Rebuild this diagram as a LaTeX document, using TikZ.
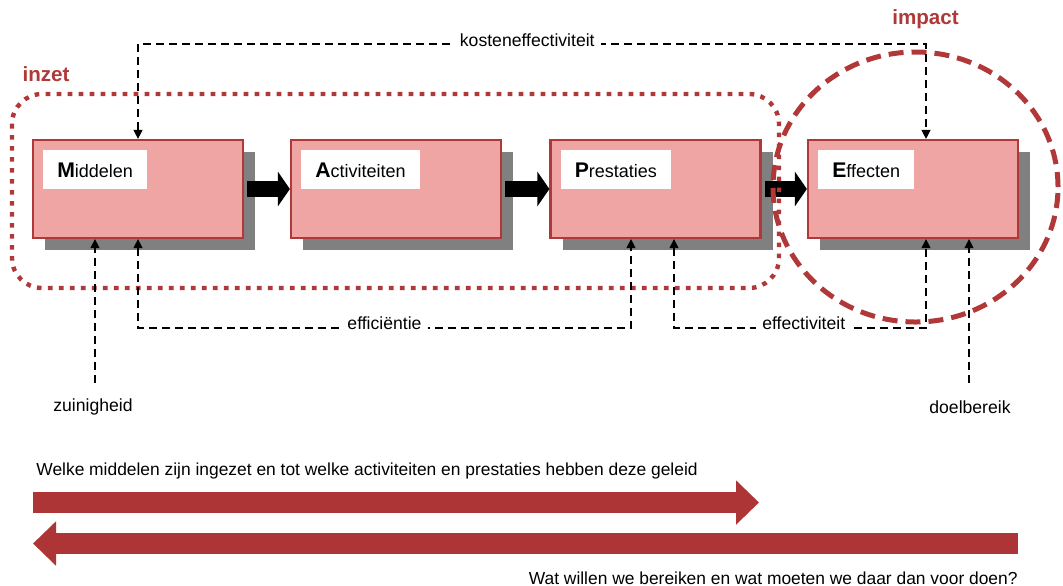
\documentclass[tikz,border=0pt]{standalone}
\usepackage{fontspec}
\setmainfont{Liberation Sans}
\usetikzlibrary{arrows.meta,shadows,calc}
\definecolor{boxfill}{RGB}{240,165,165}
\definecolor{boxline}{RGB}{176,56,56}
\definecolor{darkred}{RGB}{173,53,53}
\definecolor{shadowgray}{RGB}{128,128,128}
\newcommand\stagetext[2]{{\fontsize{10.6pt}{11pt}\selectfont\bfseries #1}{\fontsize{9pt}{10pt}\selectfont #2}}
\tikzset{
  stage/.style={draw=boxline, line width=1.1pt, fill=boxfill, minimum width=105pt, minimum height=49pt, inner sep=0pt,
    drop shadow={shadow xshift=6pt, shadow yshift=-6pt, opacity=1, fill=shadowgray}},
  stagelabel/.style={fill=white, anchor=north west, minimum height=19.5pt, inner xsep=7pt, inner ysep=0pt},
  conn/.style={draw=black, line width=0.6pt, dash pattern=on 4pt off 2.5pt},
  tip/.tip={Triangle[length=4.5pt,width=4.5pt]},
  lbl/.style={fill=white, inner xsep=3pt, inner ysep=1pt, font=\fontsize{8.8pt}{10pt}\selectfont},
  plain/.style={inner sep=0pt, font=\fontsize{8.8pt}{10pt}\selectfont},
  sentence/.style={inner sep=0pt, font=\fontsize{8.7pt}{10pt}\selectfont},
  blockarrow/.style={draw=black, line width=8pt, -{Triangle[length=6pt,width=17pt]}},
  bigarrow/.style={draw=darkred, line width=10.5pt, -{Triangle[length=11.5pt,width=21.5pt]}},
  grouplabel/.style={text=boxline, font=\fontsize{10.3pt}{12pt}\selectfont\bfseries, inner sep=0pt},
  inzetline/.style={draw=boxline, line width=2.2pt, dash pattern=on 2.3pt off 3.2pt, rounded corners=15pt},
  impactline/.style={draw=boxline, line width=2.5pt, dash pattern=on 7.5pt off 4pt}
}
\begin{document}
\begin{tikzpicture}[x=0.5pt,y=-0.5pt]
\useasboundingbox (0,0) rectangle (1063,585);
% stages
\node[stage] (mid) at (138,189) {};
\node[stage] (act) at (396,189) {};
\node[stage] (pres) at (655.5,189) {};
\node[stage] (eff) at (913,189) {};
\node[stagelabel] (midl) at ([shift={(11,11)}]mid.north west) {\stagetext{M}{iddelen}};
\node[stagelabel] (actl) at ([shift={(11,11)}]act.north west) {\stagetext{A}{ctiviteiten}};
\node[stagelabel] (presl) at ([shift={(11,11)}]pres.north west) {\stagetext{P}{restaties}};
\node[stagelabel] (effl) at ([shift={(11,11)}]eff.north west) {\stagetext{E}{ffecten}};
% block arrows
\draw[blockarrow] ([xshift=1.5pt]mid.east) -- (act.west);
\draw[blockarrow] ([xshift=1.5pt]act.east) -- (pres.west);
\draw[blockarrow] ([xshift=1.5pt]pres.east) -- (eff.west);
% groups
\draw[inzetline] (12,94) rectangle (779,288);
\node[grouplabel] (inzet) at (46,74) {inzet};
\draw[impactline] (915.5,187) ellipse [x radius=71.25pt, y radius=67.5pt];
\node[grouplabel] (impact) at (925.5,19) {impact};
% dashed connectors
\coordinate (k1) at (138,44);
\coordinate (k2) at (926,44);
\draw[conn, tip-tip] (mid.north) -- (k1) -- node[lbl, pos=0.494, yshift=2pt] {kosteneffectiviteit} (k2) -- (k2 |- eff.north);
\coordinate (e1) at (138,328);
\coordinate (e2) at (631,328);
\draw[conn, tip-tip] (mid.south) -- (e1) -- node[lbl, yshift=2.5pt] {efficiëntie} (e2) -- (e2 |- pres.south);
\coordinate (f1) at (674,328);
\coordinate (f2) at (926,328);
\draw[conn, tip-tip] (f1 |- pres.south) -- (f1) -- node[lbl, pos=0.515, yshift=2.5pt] {effectiviteit} (f2) -- (f2 |- eff.south);
\coordinate (z) at (95,383);
\draw[conn, -tip] (z) -- (z |- mid.south);
\node[plain] (zl) at (93,407) {zuinigheid};
\coordinate (d) at (969,383);
\draw[conn, -tip] (d) -- (d |- eff.south);
\node[plain] (dl) at (970,407) {doelbereik};
% bottom arrows
\node[sentence, anchor=west] (q1) at (36,471) {Welke middelen zijn ingezet en tot welke activiteiten en prestaties hebben deze geleid};
\coordinate (r1) at (33,502.5);
\coordinate (r2) at (759,502.5);
\draw[bigarrow] (r1) -- (r2);
\coordinate (l1) at (1018,543.5);
\coordinate (l2) at (33,543.5);
\draw[bigarrow] (l1) -- (l2);
\node[sentence, anchor=east] (q2) at (1018,578) {Wat willen we bereiken en wat moeten we daar dan voor doen?};
\end{tikzpicture}
\end{document}
